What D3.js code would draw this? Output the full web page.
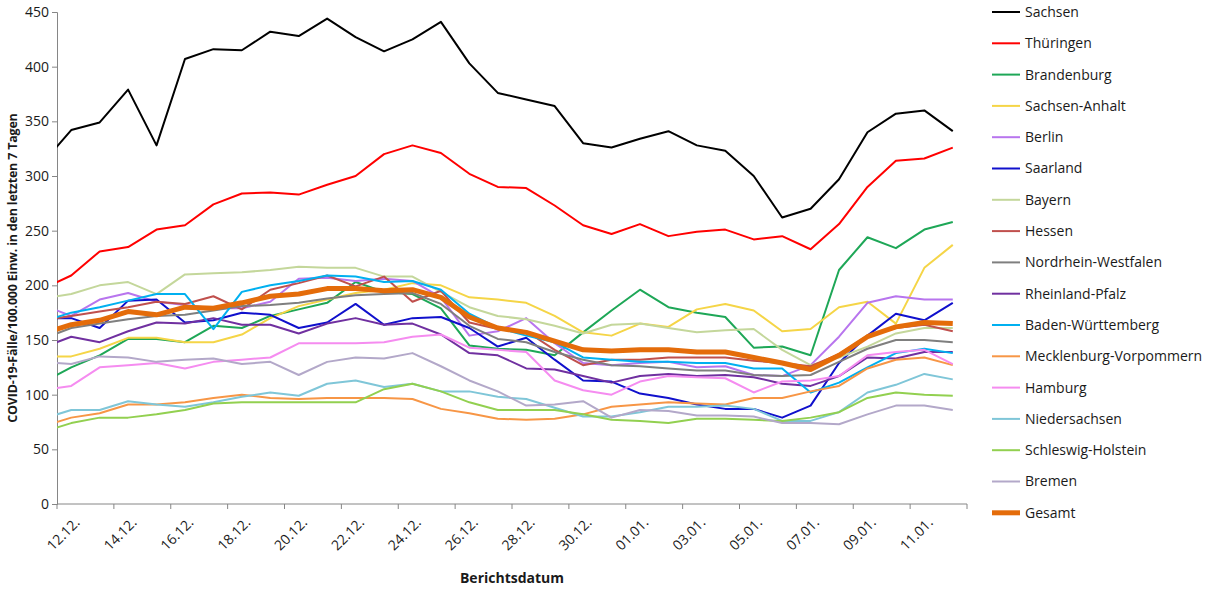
<!DOCTYPE html>
<html>
<head>
<meta charset="utf-8">
<script src="https://cdn.jsdelivr.net/npm/d3@7"></script>
<style>
  body { margin: 0; background: #fff; }
  text { font-family: "Open Sans", "Liberation Sans", sans-serif; fill: #1a1a1a; }
</style>
</head>
<body>
<svg id="chart" width="1220" height="590"></svg>
<script>
// dates shown on the category axis; "11.12." only feeds the clipped lead-in segment
const dates = ["11.12.", "12.12.", "13.12.", "14.12.", "15.12.", "16.12.", "17.12.", "18.12.", "19.12.", "20.12.", "21.12.",
  "22.12.", "23.12.", "24.12.", "25.12.", "26.12.", "27.12.", "28.12.", "29.12.", "30.12.", "31.12.",
  "01.01.", "02.01.", "03.01.", "04.01.", "05.01.", "06.01.", "07.01.", "08.01.", "09.01.", "10.01.", "11.01.", "12.01."];

const names = ["Sachsen", "Thüringen", "Brandenburg", "Sachsen-Anhalt", "Berlin", "Saarland", "Bayern", "Hessen",
  "Nordrhein-Westfalen", "Rheinland-Pfalz", "Baden-Württemberg", "Mecklenburg-Vorpommern", "Hamburg",
  "Niedersachsen", "Schleswig-Holstein", "Bremen", "Gesamt"];

const colors = ["#000000", "#ff0000", "#1ea757", "#f5d547", "#b875ee", "#1010cc", "#c4d79b", "#c0504d",
  "#7f7f7f", "#7030a0", "#00b0f0", "#f79646", "#f58cf0", "#7fc6d8", "#92d050", "#b3a8c9", "#e46c0a"];

const sachsen = [312, 342, 349, 379, 328, 407, 416, 415, 432, 428, 444, 427, 414, 425, 441, 403, 376, 370, 364, 330, 326, 334, 341, 328, 323, 300, 262, 270, 297, 340, 357, 360, 341];
const thueringen = [197, 209, 231, 235, 251, 255, 274, 284, 285, 283, 292, 300, 320, 328, 321, 302, 290, 289, 273, 255, 247, 256, 245, 249, 251, 242, 245, 233, 256, 290, 314, 316, 326];
const brandenburg = [111, 125, 136, 151, 151, 148, 163, 161, 172, 178, 184, 203, 194, 192, 179, 145, 142, 141, 136, 157, 177, 196, 180, 175, 171, 143, 144, 136, 214, 244, 234, 251, 258];
const sachsenAnhalt = [135, 135, 142, 152, 152, 148, 148, 155, 170, 181, 187, 193, 196, 202, 200, 189, 187, 184, 172, 157, 154, 165, 162, 178, 183, 177, 158, 160, 180, 185, 165, 216, 237];
const berlin = [182, 172, 187, 193, 185, 182, 179, 179, 185, 206, 207, 204, 206, 204, 189, 154, 158, 170, 147, 129, 127, 129, 130, 125, 126, 118, 117, 127, 153, 184, 190, 187, 187];
const saarland = [170, 170, 161, 186, 187, 166, 168, 175, 173, 161, 166, 183, 164, 170, 171, 161, 144, 152, 132, 113, 112, 101, 97, 91, 87, 87, 79, 90, 129, 154, 174, 168, 184];
const bayern = [188, 192, 200, 203, 192, 210, 211, 212, 214, 217, 216, 216, 208, 208, 194, 180, 172, 169, 163, 156, 164, 165, 161, 157, 159, 160, 141, 127, 134, 144, 156, 161, 161];
const hessen = [168, 172, 176, 180, 185, 183, 190, 178, 196, 202, 209, 199, 208, 185, 195, 166, 160, 158, 141, 127, 132, 132, 134, 134, 134, 131, 129, 126, 137, 154, 161, 164, 158];
const nrw = [151, 161, 165, 169, 172, 173, 177, 181, 182, 184, 188, 191, 192, 193, 183, 163, 151, 148, 139, 132, 127, 126, 124, 122, 122, 118, 117, 118, 130, 142, 150, 150, 148];
const rlp = [143, 153, 148, 158, 166, 165, 170, 164, 164, 156, 165, 170, 164, 165, 155, 138, 136, 124, 123, 117, 111, 117, 119, 117, 118, 116, 110, 108, 117, 134, 133, 139, 139];
const bw = [167, 175, 180, 186, 192, 192, 160, 194, 200, 204, 209, 208, 203, 204, 196, 174, 161, 154, 148, 134, 132, 130, 130, 129, 129, 124, 124, 102, 111, 125, 138, 142, 138];
const mv = [71, 79, 83, 91, 91, 93, 97, 100, 97, 96, 97, 97, 97, 96, 87, 83, 78, 77, 78, 82, 89, 91, 93, 92, 91, 97, 97, 103, 108, 124, 132, 134, 127];
const hamburg = [104, 108, 125, 127, 129, 124, 130, 132, 134, 147, 147, 147, 148, 153, 155, 143, 141, 139, 113, 104, 100, 112, 117, 116, 115, 102, 112, 113, 117, 136, 139, 141, 128];
const niedersachsen = [78, 86, 86, 94, 91, 89, 93, 98, 102, 99, 110, 113, 107, 110, 103, 103, 98, 96, 88, 80, 80, 84, 89, 89, 90, 87, 76, 76, 84, 102, 109, 119, 114];
const sh = [66, 74, 79, 79, 82, 86, 92, 93, 93, 93, 93, 93, 105, 110, 103, 93, 86, 86, 86, 82, 77, 76, 74, 78, 78, 77, 76, 79, 84, 97, 102, 100, 99];
const bremen = [130, 128, 135, 134, 130, 132, 133, 128, 130, 118, 130, 134, 133, 138, 126, 113, 103, 90, 91, 94, 79, 86, 85, 81, 81, 80, 74, 74, 73, 82, 90, 90, 86];
const gesamt = [156, 164, 168, 176, 173, 180, 179, 184, 190, 192, 197, 197, 195, 196, 189, 171, 161, 157, 149, 141, 140, 141, 141, 139, 139, 134, 129, 123, 136, 153, 162, 166, 165];

const seriesValues = [sachsen, thueringen, brandenburg, sachsenAnhalt, berlin, saarland, bayern, hessen,
  nrw, rlp, bw, mv, hamburg, niedersachsen, sh, bremen, gesamt];

const yTicks = [0, 50, 100, 150, 200, 250, 300, 350, 400, 450];

const svg = d3.select("#chart");
const margin = { top: 12, left: 57, right: 253, bottom: 86 };
const W = 1220, H = 590;
const innerW = W - margin.left - margin.right;
const innerH = H - margin.top - margin.bottom;

const shown = dates.slice(1);
const x = d3.scaleBand().domain(shown).range([0, innerW]).padding(0);
const step = x.step();
const xPos = (i) => i === 0 ? x(shown[0]) - step / 2 : x(dates[i]) + step / 2;
const y = d3.scaleLinear().domain([0, 450]).range([innerH, 0]);

const g = svg.append("g").attr("transform", `translate(${margin.left},${margin.top})`);

svg.append("defs").append("clipPath").attr("id", "plot")
  .append("rect").attr("x", 0).attr("y", -5).attr("width", innerW).attr("height", innerH + 10);

// y axis
const yAxis = g.append("g").call(d3.axisLeft(y).tickValues(yTicks).tickSize(5).tickPadding(3));
yAxis.select(".domain").attr("stroke", "#868686");
yAxis.selectAll(".tick line").attr("stroke", "#868686");
yAxis.selectAll("text").style("font-size", "14px");

// x axis: ticks at every second category boundary
const xAxisG = g.append("g").attr("transform", `translate(0,${innerH})`);
xAxisG.append("line").attr("x1", 0).attr("x2", innerW).attr("stroke", "#868686");
const boundaries = d3.range(0, shown.length + 1, 2);
xAxisG.selectAll("line.tk").data(boundaries).join("line").attr("class", "tk")
  .attr("x1", (d) => d * step).attr("x2", (d) => d * step).attr("y1", 0).attr("y2", 5)
  .attr("stroke", "#868686");
xAxisG.selectAll("text").data(shown.filter((_, i) => i % 2 === 0)).join("text")
  .attr("transform", (d) => `translate(${x(d) + step / 2 + 6},${16}) rotate(-45)`)
  .attr("text-anchor", "end").attr("dy", "0.35em")
  .style("font-size", "14px").text((d) => d);

// axis titles
svg.append("text").attr("transform", `translate(13,${margin.top + innerH / 2 + 10}) rotate(-90)`)
  .attr("text-anchor", "middle").attr("dy", "0.35em")
  .style("font-size", "12.5px").style("font-weight", "bold").style("letter-spacing", "-0.2px")
  .text("COVID-19-Fälle/100.000 Einw. in den letzten 7 Tagen");
svg.append("text").attr("x", margin.left + innerW / 2).attr("y", 583)
  .attr("text-anchor", "middle").style("font-size", "14px").style("font-weight", "bold")
  .text("Berichtsdatum");

// lines
const line = d3.line().x((d, i) => xPos(i)).y((d) => y(d));
const lines = g.append("g").attr("clip-path", "url(#plot)");
seriesValues.forEach((vals, k) => {
  lines.append("path").datum(vals)
    .attr("fill", "none")
    .attr("stroke", colors[k])
    .attr("stroke-width", names[k] === "Gesamt" ? 5 : 2)
    .attr("stroke-linejoin", "round")
    .attr("d", line);
});

// legend
const legend = svg.append("g").attr("transform", "translate(992,12)");
names.forEach((n, k) => {
  const row = legend.append("g").attr("transform", `translate(0,${k * 31.3})`);
  row.append("line").attr("x1", 0).attr("x2", 28)
    .attr("stroke", colors[k]).attr("stroke-width", n === "Gesamt" ? 5 : 2);
  row.append("text").attr("x", 33).attr("dy", "0.35em").style("font-size", "14px").text(n);
});
</script>
</body>
</html>
